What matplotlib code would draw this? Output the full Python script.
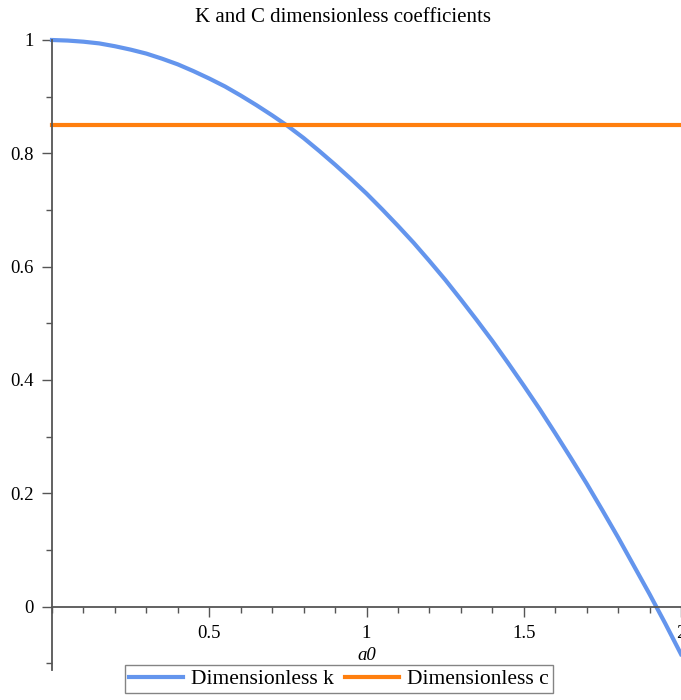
import numpy as np
import matplotlib.pyplot as plt
from matplotlib.ticker import MultipleLocator

# a0 samples and the dimensionless coefficients at each one
a0 = [0.00, 0.05, 0.10, 0.15, 0.20, 0.25, 0.30, 0.35, 0.40, 0.45,
      0.50, 0.55, 0.60, 0.65, 0.70, 0.75, 0.80, 0.85, 0.90, 0.95,
      1.00, 1.05, 1.10, 1.15, 1.20, 1.25, 1.30, 1.35, 1.40, 1.45,
      1.50, 1.55, 1.60, 1.65, 1.70, 1.75, 1.80, 1.85, 1.90, 1.95, 2.00]
k_dimless = [1.000, 0.999, 0.997, 0.994, 0.989, 0.983, 0.976, 0.967, 0.957, 0.945,
             0.932, 0.918, 0.902, 0.885, 0.867, 0.848, 0.827, 0.804, 0.780, 0.755,
             0.729, 0.701, 0.672, 0.642, 0.610, 0.577, 0.542, 0.506, 0.469, 0.430,
             0.390, 0.349, 0.306, 0.262, 0.217, 0.170, 0.122, 0.072, 0.022, -0.030, -0.084]
c_dimless = [0.85] * len(a0)

plt.rcParams['font.family'] = ['Liberation Serif', 'DejaVu Serif']

fig = plt.figure(figsize=(6.81, 7.0), dpi=100)
ax = fig.add_axes([52 / 681, 30 / 700, 1 - 52 / 681, 630 / 700])

ax.plot(a0, k_dimless, color='#6495ED', lw=3, label='Dimensionless k', clip_on=False)
ax.plot(a0, c_dimless, color='#FF7F0E', lw=3, label='Dimensionless c', clip_on=False)

ax.set_xlim(0, 2)
ax.set_ylim(-0.112, 1.0)

# axes crossing at the origin
ax.spines['bottom'].set_position(('data', 0))
ax.spines['top'].set_visible(False)
ax.spines['right'].set_visible(False)
for s in ('left', 'bottom'):
    ax.spines[s].set_color('#555555')
    ax.spines[s].set_linewidth(1.3)

ax.xaxis.set_minor_locator(MultipleLocator(0.1))
ax.yaxis.set_minor_locator(MultipleLocator(0.1))
ax.set_xticks([0.5, 1, 1.5, 2])
ax.set_xticklabels(['0.5', '1', '1.5', '2'])
ax.set_yticks([0, 0.2, 0.4, 0.6, 0.8, 1])
ax.set_yticklabels(['0', '0.2', '0.4', '0.6', '0.8', '1'])
ax.tick_params(which='major', length=7, width=1, color='#555555', labelsize=13.5, pad=6)
ax.tick_params(which='minor', length=4, width=1, color='#555555')

ax.text(0.5, 15 / 630, 'a0', transform=ax.transAxes, ha='center', va='center',
        fontsize=13.5, style='italic')
fig.text(343 / 681, 1 - 17 / 700, 'K and C dimensionless coefficients',
         ha='center', va='center', fontsize=15)

fig.legend(loc='lower center', bbox_to_anchor=(339 / 681, -0.006), ncol=2,
           fontsize=15.5, frameon=True, fancybox=False, edgecolor='#666666',
           handlelength=2.5, columnspacing=0.5, handletextpad=0.4,
           borderpad=0.2)

fig.savefig('out.png', dpi=100)
